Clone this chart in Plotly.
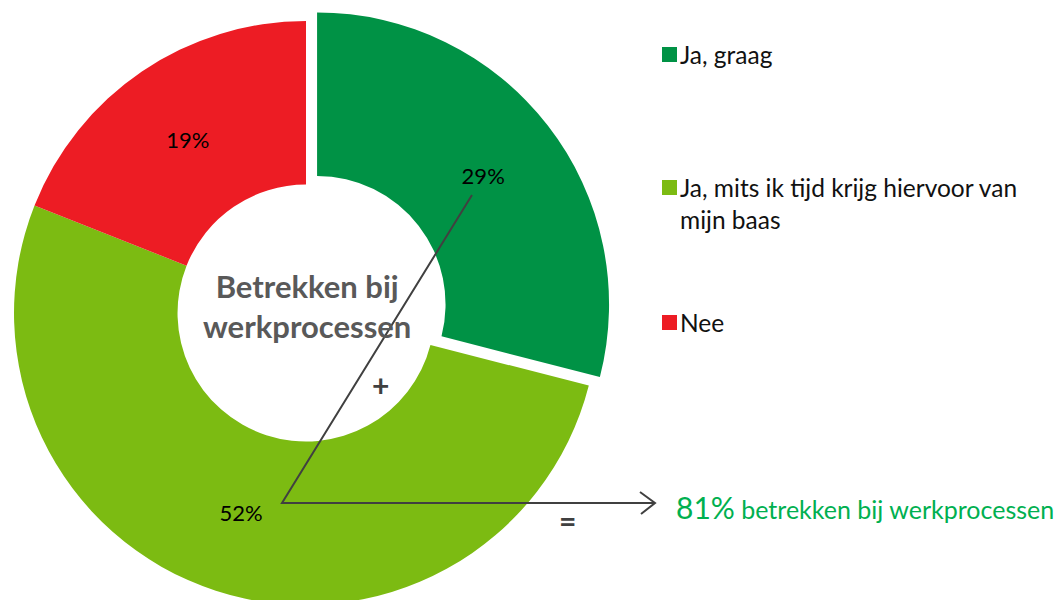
import plotly.graph_objects as go

# --- data ---
labels = ["Ja, graag", "Ja, mits ik tijd krijg hiervoor van mijn baas", "Nee"]
legend_text = ["Ja, graag", "Ja, mits ik tijd krijg hiervoor van<br>mijn baas", "Nee"]
values = [29, 52, 19]
colors = ["#009245", "#7CBB12", "#ED1C24"]
pulls = [0.048, 0, 0]
center_title = "Betrekken bij<br>werkprocessen"
total_label = "betrekken bij werkprocessen"

# figure is a bit taller than the window so the donut bottom gets cropped like the original
W, H = 1056, 626
FONT = "Lato, Calibri, sans-serif"


def px(x, y):
    """pixel position -> paper coords"""
    return x / W, 1 - y / H


fig = go.Figure(
    go.Pie(
        labels=labels,
        values=values,
        hole=0.44,
        sort=False,
        direction="clockwise",
        rotation=0,
        pull=pulls,
        marker=dict(colors=colors, line=dict(width=0)),
        texttemplate="%{value}%",
        textposition="inside",
        insidetextorientation="horizontal",
        textfont=dict(family=FONT, size=22, color="black"),
        domain=dict(x=[0.0, 612 / W], y=[0, 1]),
        showlegend=False,
        hoverinfo="label+percent",
    )
)

shapes = []
annotations = []

# manual legend (big gaps between items, like the original)
legend_y = [55, 188, 323]
for txt, col, ly in zip(legend_text, colors, legend_y):
    x0, y0 = px(662, ly - 8)
    x1, y1 = px(677, ly + 7)
    shapes.append(dict(type="rect", xref="paper", yref="paper", x0=x0, x1=x1,
                       y0=y1, y1=y0, fillcolor=col, line=dict(width=0)))
    ax, ay = px(678, ly - 17)
    annotations.append(dict(text=txt, xref="paper", yref="paper", x=ax, y=ay,
                            xanchor="left", yanchor="top", align="left",
                            showarrow=False,
                            font=dict(family=FONT, size=24.5, color="#111111")))

# centre title
cx, cy = px(307, 306)
annotations.append(dict(text="<b>" + center_title + "</b>", xref="paper", yref="paper",
                        x=cx, y=cy, xanchor="center", yanchor="middle", showarrow=False,
                        font=dict(family=FONT, size=31, color="#595959")))

# connector: 29% -> 52% -> arrow
p1 = px(472, 195)
p2 = px(282, 503)
p3 = px(655, 503)
shapes.append(dict(type="path", xref="paper", yref="paper",
                   path=f"M {p1[0]},{p1[1]} L {p2[0]},{p2[1]} L {p3[0]},{p3[1]}",
                   line=dict(color="#404040", width=2)))
a1 = px(640, 492)
a2 = px(641, 514)
shapes.append(dict(type="path", xref="paper", yref="paper",
                   path=f"M {a1[0]},{a1[1]} L {p3[0]},{p3[1]} L {a2[0]},{a2[1]}",
                   line=dict(color="#404040", width=2)))

# plus and equals
for sym, sx, sy in [("+", 380, 385), ("=", 567, 520)]:
    x, y = px(sx, sy)
    annotations.append(dict(text="<b>" + sym + "</b>", xref="paper", yref="paper",
                            x=x, y=y, xanchor="center", yanchor="middle", showarrow=False,
                            font=dict(family=FONT, size=30, color="#404040")))

# total
total = values[0] + values[1]
tx, ty = px(674, 507)
annotations.append(dict(
    text=f"<span style='font-size:30px'>{total}%</span> {total_label}",
    xref="paper", yref="paper", x=tx, y=ty, xanchor="left", yanchor="middle",
    showarrow=False, font=dict(family=FONT, size=25, color="#00B050")))

fig.update_layout(
    width=W, height=H,
    margin=dict(l=0, r=0, t=0, b=0),
    paper_bgcolor="white",
    plot_bgcolor="white",
    shapes=shapes,
    annotations=annotations,
)

fig.write_html(
    "out.html",
    config={"displayModeBar": False},
    post_script="document.body.style.margin='0';"
                "document.documentElement.style.overflow='hidden';",
)
